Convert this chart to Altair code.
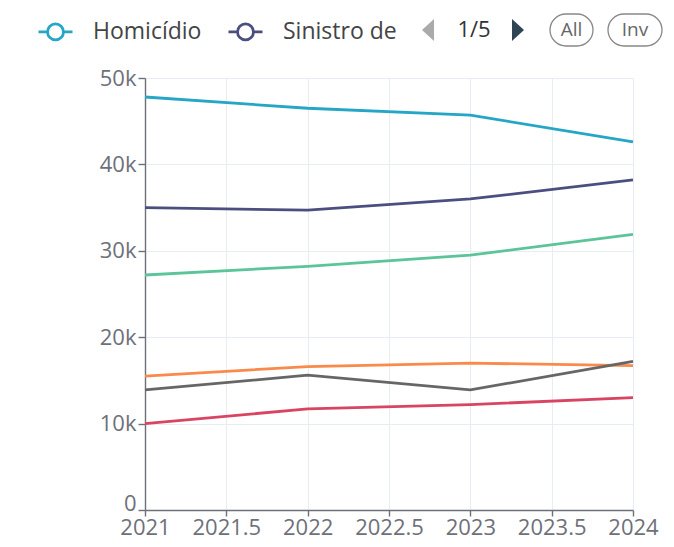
import altair as alt
import pandas as pd

years = [2021, 2022, 2023, 2024]
series_names = ["Homicídio", "Sinistro de trânsito", "Suicídio", "Queda acidental", "Afogamento", "Outros"]
homicidio = [47800, 46500, 45700, 42600]
sinistro = [35000, 34700, 36000, 38200]
suicidio = [27200, 28200, 29500, 31900]
queda = [15500, 16600, 17000, 16700]
afogamento = [13900, 15600, 13900, 17200]
outros = [10000, 11700, 12200, 13000]
colors = ["#25A6C6", "#4B4F80", "#5CC49A", "#F98A4B", "#666666", "#D94463"]
x_ticks = [2021, 2021.5, 2022, 2022.5, 2023, 2023.5, 2024]
y_ticks = [0, 10000, 20000, 30000, 40000, 50000]

all_vals = [homicidio, sinistro, suicidio, queda, afogamento, outros]
rows = []
for name, vals in zip(series_names, all_vals):
    for yr, v in zip(years, vals):
        rows.append({"ano": yr, "valor": v, "serie": name})
df = pd.DataFrame(rows)

FONT = "Open Sans"
AX = "#6E7079"
FS = 22

sym = ("M-1,0 L-0.47,0 M0.47,0 L1,0 "
       "M-0.47,0 A0.47,0.47 0 1,1 0.47,0 A0.47,0.47 0 1,1 -0.47,0 Z")

lines = alt.Chart(df).mark_line(strokeWidth=2.8).encode(
    x=alt.X("ano:Q", scale=alt.Scale(domain=[2021, 2024], nice=False, zero=False),
            axis=alt.Axis(values=x_ticks, labelExpr="'' + datum.value", title=None,
                          grid=True, gridColor="#E8ECF3", domainColor=AX, tickColor=AX,
                          tickSize=6, labelColor=AX, labelFontSize=FS, labelFont=FONT,
                          labelFlush=False, labelPadding=1, domainWidth=1.4, tickWidth=1.4)),
    y=alt.Y("valor:Q", scale=alt.Scale(domain=[0, 50000], nice=False),
            axis=alt.Axis(values=y_ticks,
                          labelExpr="datum.value == 0 ? '0' : format(datum.value, '~s')",
                          labelOffset={"condition": {"test": "datum.value == 0", "value": -7}, "value": 0},
                          title=None,
                          grid=True, gridColor="#E8ECF3", domainColor=AX, tickColor=AX,
                          tickSize=7, labelColor=AX, labelFontSize=FS, labelFont=FONT,
                          labelPadding=2, domainWidth=1.4, tickWidth=1.4)),
    color=alt.Color("serie:N", sort=series_names,
                    scale=alt.Scale(domain=series_names, range=colors),
                    legend=alt.Legend(values=series_names[:2], orient="none", direction="horizontal",
                                      legendX=-108, legendY=-65, title=None,
                                      symbolType=sym, symbolSize=1156, symbolStrokeWidth=2.8,
                                      symbolFillColor="white",
                                      labelFontSize=23, labelFont=FONT, labelColor="#444",
                                      labelExpr="substring(datum.label, 0, 11)",
                                      columnPadding=20, labelOffset=19)),
)

nav_labels = ["1/5", "All", "Inv"]
nav = pd.DataFrame({"t": nav_labels})

tri_left = "M0.55,-1 L-0.55,0 L0.55,1 Z"
tri_right = "M-0.55,-1 L0.55,0 L-0.55,1 Z"

tri_l = alt.Chart(nav.head(1)).mark_point(shape=tri_left, filled=True, size=480,
                                          color="#AAAAAA", opacity=1).encode(
    x=alt.value(283), y=alt.value(-48))
tri_r = alt.Chart(nav.head(1)).mark_point(shape=tri_right, filled=True, size=480,
                                          color="#2F4554", opacity=1).encode(
    x=alt.value(373), y=alt.value(-48))
page_txt = alt.Chart(nav.head(1)).mark_text(fontSize=22, font=FONT, color="#333").encode(
    x=alt.value(329), y=alt.value(-48), text="t:N")

btn_all = alt.Chart(nav.iloc[[1]]).mark_rect(cornerRadius=16, fill="white", stroke="#888",
                                              strokeWidth=1.3).encode(
    x=alt.value(405), x2=alt.value(448), y=alt.value(-64), y2=alt.value(-32))
btn_inv = alt.Chart(nav.iloc[[2]]).mark_rect(cornerRadius=16, fill="white", stroke="#888",
                                              strokeWidth=1.3).encode(
    x=alt.value(463), x2=alt.value(517), y=alt.value(-64), y2=alt.value(-32))
txt_all = alt.Chart(nav.iloc[[1]]).mark_text(fontSize=19, font=FONT, color="#666").encode(
    x=alt.value(426.5), y=alt.value(-48), text="t:N")
txt_inv = alt.Chart(nav.iloc[[2]]).mark_text(fontSize=19, font=FONT, color="#666").encode(
    x=alt.value(490), y=alt.value(-48), text="t:N")

chart = alt.layer(lines, tri_l, tri_r, page_txt, btn_all, btn_inv, txt_all, txt_inv).properties(
    width=488, height=432,
    autosize=alt.AutoSizeParams(type="none"),
    padding={"left": 137, "top": 70, "right": 33, "bottom": 29},
    background="white",
).configure_view(stroke=None)

chart.save("out.html", embed_options={"renderer": "svg", "actions": False})
